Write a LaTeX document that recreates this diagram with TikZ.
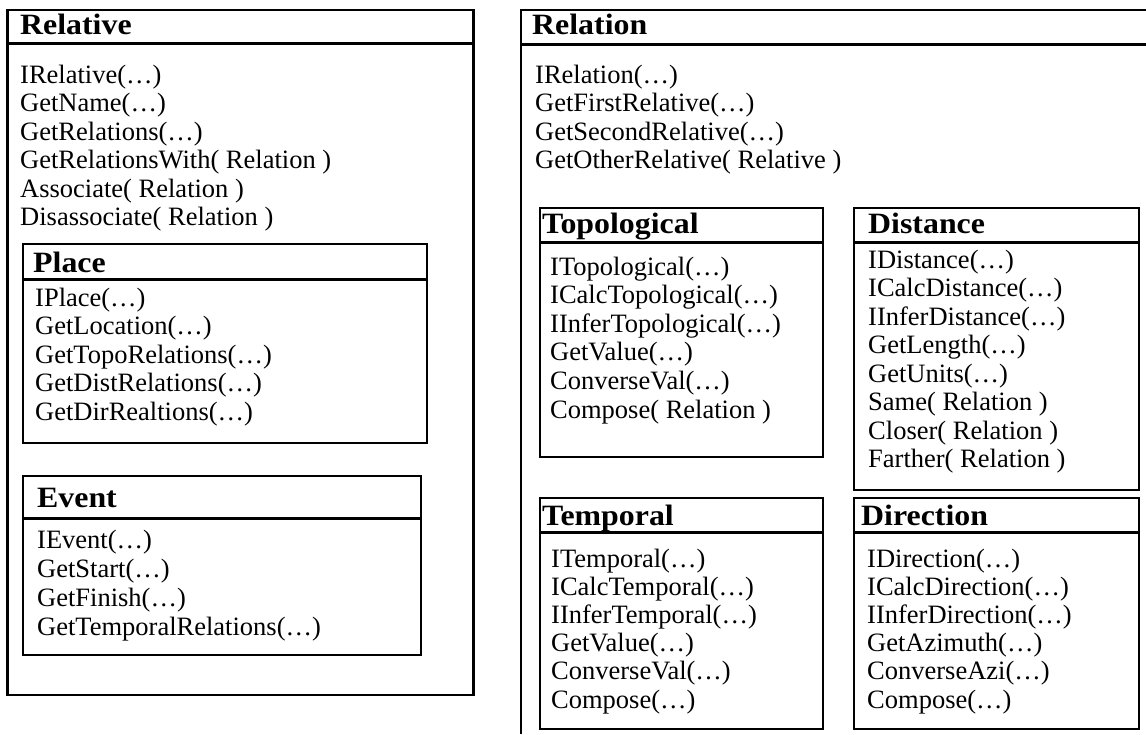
\documentclass[tikz,border=0pt]{standalone}
\usepackage{fontspec}
\setmainfont{Liberation Serif}
\newfontfamily\ttlfont[FakeStretch=1.08]{Liberation Serif}
\tikzset{
  frame/.style={line width=2.5pt},
  hline/.style={line width=3pt},
  ttl/.style={anchor=base west, inner sep=0pt, font=\ttlfont\fontsize{29.5}{29.5}\selectfont\bfseries},
  meth/.style={anchor=base west, inner sep=0pt, font=\fontsize{26.5}{28}\selectfont},
}
\begin{document}
\begin{tikzpicture}[x=1pt,y=-1pt]
\useasboundingbox[fill=white] (0,0) rectangle (1146,734);

% ---------- Relative ----------
\draw[frame] (7.5,10) rectangle (473.5,695);
\draw[hline] (7.5,43.5) -- (473.5,43.5);
\node[ttl] (relT) at (20,34) {Relative};
\foreach \t [count=\i from 0] in {IRelative(…),GetName(…),GetRelations(…),GetRelationsWith( Relation ),Associate( Relation ),Disassociate( Relation )}
  \node[meth] (relm\i) at (20,83+28.5*\i) {\t};

% Place
\draw[frame] (23,244) rectangle (427,443);
\draw[hline] (23,279) -- (427,279);
\node[ttl] (plT) at (33,272) {Place};
\foreach \t [count=\i from 0] in {IPlace(…),GetLocation(…),GetTopoRelations(…),GetDistRelations(…),GetDirRealtions(…)}
  \node[meth] (plm\i) at (35,306+28.5*\i) {\t};

% Event
\draw[frame] (23,476) rectangle (421,655);
\draw[hline] (23,518) -- (421,518);
\node[ttl] (evT) at (37,507) {Event};
\foreach \t [count=\i from 0] in {IEvent(…),GetStart(…),GetFinish(…),GetTemporalRelations(…)}
  \node[meth] (evm\i) at (37,548+29*\i) {\t};

% ---------- Relation ----------
\draw[frame] (1146,10) -- (521,10) -- (521,734);
\draw[hline] (521,44) -- (1146,44);
\node[ttl] (rlT) at (532,34) {Relation};
\foreach \t [count=\i from 0] in {IRelation(…),GetFirstRelative(…),GetSecondRelative(…),GetOtherRelative( Relative )}
  \node[meth] (rlm\i) at (535,83+28.5*\i) {\t};

% Topological
\draw[frame] (540,208) rectangle (823,457);
\draw[hline] (540,242) -- (823,242);
\node[ttl] (toT) at (542,233) {Topological};
\foreach \t [count=\i from 0] in {ITopological(…),ICalcTopological(…),IInferTopological(…),GetValue(…),ConverseVal(…),Compose( Relation )}
  \node[meth] (tom\i) at (550,275+28.6*\i) {\t};

% Distance
\draw[frame] (854,208) rectangle (1139,490);
\draw[hline] (854,242) -- (1139,242);
\node[ttl] (diT) at (868,233) {Distance};
\foreach \t [count=\i from 0] in {IDistance(…),ICalcDistance(…),IInferDistance(…),GetLength(…),GetUnits(…),Same( Relation ),Closer( Relation ),Farther( Relation )}
  \node[meth] (dim\i) at (868,268+28.5*\i) {\t};

% Temporal
\draw[frame] (540,498) rectangle (823,729);
\draw[hline] (540,532) -- (823,532);
\node[ttl] (teT) at (542,525) {Temporal};
\foreach \t [count=\i from 0] in {ITemporal(…),ICalcTemporal(…),IInferTemporal(…),GetValue(…),ConverseVal(…),Compose(…)}
  \node[meth] (tem\i) at (551,567+28.2*\i) {\t};

% Direction
\draw[frame] (854,498) rectangle (1139,729);
\draw[hline] (854,532) -- (1139,532);
\node[ttl] (drT) at (861,525) {Direction};
\foreach \t [count=\i from 0] in {IDirection(…),ICalcDirection(…),IInferDirection(…),GetAzimuth(…),ConverseAzi(…),Compose(…)}
  \node[meth] (drm\i) at (867,567+28.2*\i) {\t};
\end{tikzpicture}
\end{document}
